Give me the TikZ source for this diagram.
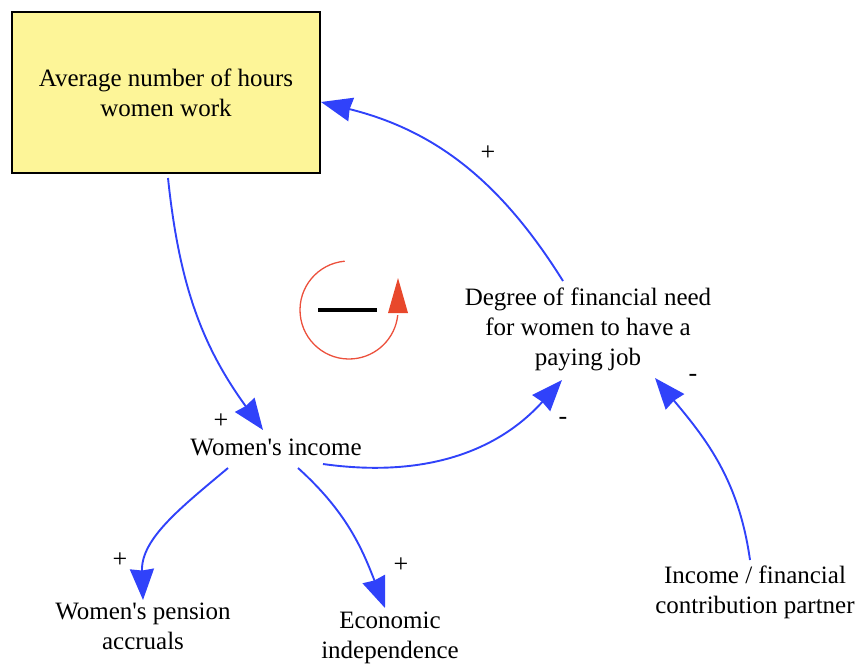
\documentclass[tikz,border=0pt]{standalone}
\usepackage{fontspec}
\setmainfont{Liberation Serif}[Ligatures=TeXOff]
\usetikzlibrary{arrows.meta,calc}
\definecolor{linkblue}{RGB}{48,66,250}
\definecolor{stockyellow}{RGB}{253,245,152}
\definecolor{loopred}{RGB}{236,80,60}
\definecolor{loophead}{RGB}{232,72,44}
\tikzset{
  var/.style={align=center,inner sep=0pt,font=\fontsize{25}{30}\selectfont},
  stock/.style={draw=black,line width=1.8pt,fill=stockyellow,minimum width=308pt,minimum height=161pt,
    align=center,inner sep=0pt,font=\fontsize{25}{30}\selectfont},
  link/.style={draw=linkblue,line width=1.9pt,-{Stealth[length=31pt,width=24pt,inset=1.5pt]}},
  polarity/.style={inner sep=0pt,font=\fontsize{26}{26}\selectfont}
}
\begin{document}
\begin{tikzpicture}[x=1pt,y=1pt]
\useasboundingbox (0,0) rectangle (859,-667);

% variables
\node[stock] (hours) at (166,-92.5) {Average number of hours\\women work};
\node[var] (income) at (276,-447) {Women's income};
\node[var] (need) at (588,-329) {Degree of financial need\\for women to have a\\paying job};
\node[var] (pension) at (143,-626.5) {Women's pension\\accruals};
\node[var] (indep) at (390,-638) {Economic\\independence};
\node[var] (partner) at (755,-592) {Income / financial\\contribution partner};

% causal links
\draw[link] ($(hours)+(2,-85.5)$) to[out=-84,in=126] ($(income)+(-13,17)$);
\draw[link] ($(need)+(-25,48)$) to[out=122,in=-14] ($(hours)+(155,-9.5)$);
\draw[link] ($(income)+(47,-17)$) to[out=-8,in=-132] ($(need)+(-26,-51)$);
\draw[link] ($(partner)+(-5,32)$) to[out=98,in=-50] ($(need)+(67,-49)$);
\draw[link] ($(income)+(-48,-21)$) to[out=-140,in=92] ($(pension)+(0,26.5)$);
\draw[link] ($(income)+(22,-21)$) to[out=-42,in=111] ($(indep)+(-5,30)$);

% polarities
\node[polarity] (p1) at (221,-421) {+};
\node[polarity] (p2) at (488,-153) {+};
\node[polarity] (p3) at (563,-421) {-};
\node[polarity] (p4) at (693,-378) {-};
\node[polarity] (p5) at (120,-560) {+};
\node[polarity] (p6) at (401,-565) {+};

% balancing loop marker
\coordinate (loopc) at (349,-310);
\draw[loopred,line width=1.3pt] ($(loopc)+(95:49)$) arc[start angle=95,end angle=354,radius=49];
\fill[loophead] (398,-278) -- (388,-313) -- (408,-313) -- cycle;
\draw[black,line width=4pt] (318,-310) -- (377,-310);
\end{tikzpicture}
\end{document}
